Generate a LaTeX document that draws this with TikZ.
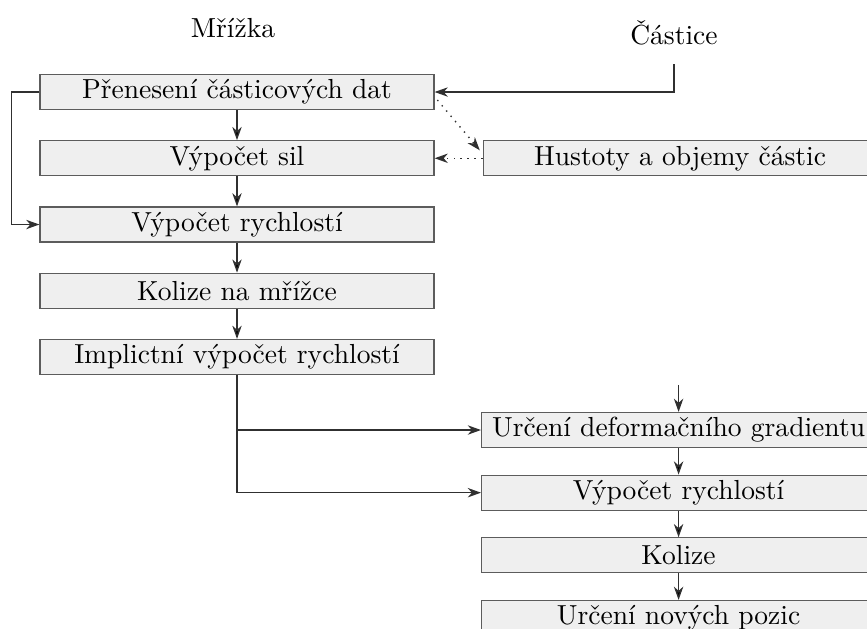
\documentclass[tikz,border=0pt]{standalone}
\usepackage{xcolor}
\usepackage{tikz}
\usetikzlibrary{positioning, arrows.meta}

\definecolor{boxfill}{HTML}{EFEFEF}
\definecolor{boxline}{HTML}{5C5C5C}
\definecolor{flowline}{HTML}{303030}

\tikzset{
	krok/.style={draw=boxline, fill=boxfill, line width=0.45pt, minimum height=12.7pt, text width=138pt, inner xsep=2.5pt, inner ysep=0pt, align=center},
	tok/.style={-{Stealth[length=4.8pt, width=3.4pt, inset=1.5pt]}, draw=flowline, line width=0.5pt},
}

\begin{document}
\begin{tikzpicture}[x=0.363pt, y=-0.363pt]

		\useasboundingbox (0,0) rectangle (867,628);
		\clip (0,0) rectangle (867,628);

		\node (mriz) [anchor=base] at (233,37) {Mřížka};
		\node (cast) [anchor=base] at (674,44) {Částice};

		% mrizka
		\node[krok] (pren) at (237,92) {Přenesení částicových dat};
		\node[krok] (sil) [below=10.9pt of pren] {Výpočet sil};
		\node[krok] (rych) [below=10.9pt of sil] {Výpočet rychlostí};
		\node[krok] (kol) [below=10.9pt of rych] {Kolize na mřížce};
		\node[krok] (impl) [below=10.9pt of kol] {Implictní výpočet rychlostí};

		% castice
		\node[krok] (hust) [right=17.4pt of sil] {Hustoty a objemy částic};
		\node[krok] (grad) [anchor=west] at (481,430) {Určení deformačního gradientu};
		\node[krok] (rych2) [below=9.6pt of grad] {Výpočet rychlostí};
		\node[krok] (kol2) [below=9.6pt of rych2] {Kolize};
		\node[krok] (poz) [below=9.6pt of kol2] {Určení nových pozic};
		\coordinate (vstup) at ([yshift=9.8pt]grad.north);

		\path[tok]
		(pren) edge (sil)
		(sil) edge (rych)
		(rych) edge (kol)
		(kol) edge (impl)

		(grad) edge (rych2)
		(rych2) edge (kol2)
		(kol2) edge (poz);

		\draw[tok] (vstup) -- (grad.north);
		\draw[tok, shorten <=3.6pt] (cast.south) |- (pren.east);
		\draw[tok] (pren.west) -- ++(-28,0) |- (rych.west);
		\draw[tok, dotted] ([xshift=1pt, yshift=-2.9pt]pren.east) -- ([xshift=-1pt, yshift=2.9pt]hust.west);
		\draw[tok, dotted] (hust.west) -- (sil.east);
		\draw[tok] (impl.south) |- (grad.west);
		\draw[tok] (impl.south) |- (rych2.west);

\end{tikzpicture}
\end{document}
